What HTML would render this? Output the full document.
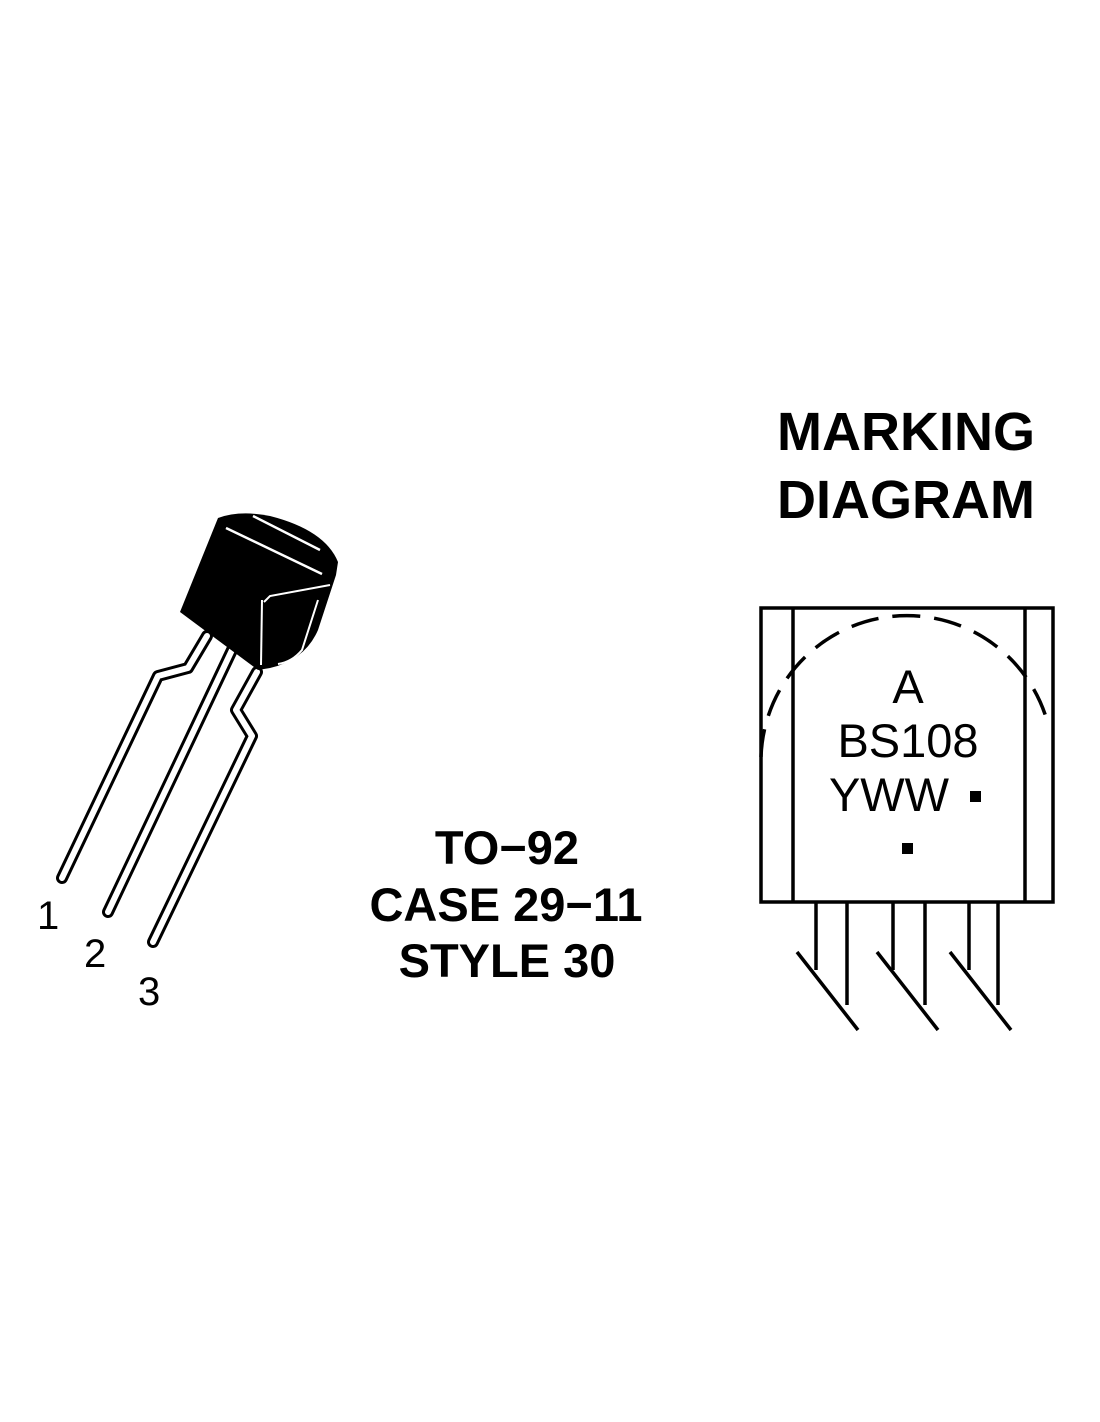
<!DOCTYPE html>
<html><head><style>
html,body{margin:0;padding:0;background:#fff;}
svg{display:block}
</style></head><body>
<svg width="1100" height="1422" viewBox="0 0 1100 1422" xmlns="http://www.w3.org/2000/svg">
<rect width="1100" height="1422" fill="#fff"/>
<!-- leads -->
<g fill="none" stroke-linecap="round" stroke-linejoin="round">
<g stroke="#000" stroke-width="12">
<path d="M207,636 L188,668 L158,676 L62,878"/>
<path d="M232,650 L108,912"/>
<path d="M257,672 L236,710 L252,736 L153,942"/>
</g>
<g stroke="#fff" stroke-width="6">
<path d="M207,636 L188,668 L158,676 L62,878"/>
<path d="M232,650 L108,912"/>
<path d="M257,672 L236,710 L252,736 L153,942"/>
</g>
</g>
<!-- body -->
<path d="M218,518 Q240,510 270,516 Q325,530 338,562 L336,575 L318,630 Q305,660 270,668 L258,670 L180,612 Z" fill="#000"/>
<path d="M226,528 L322,574" stroke="#fff" stroke-width="2.5"/>
<path d="M253,516 L320,550" stroke="#fff" stroke-width="2.5"/>
<path d="M264,602 L270,596 L330,585" stroke="#fff" stroke-width="2" fill="none"/>
<path d="M262,600 L261,665" stroke="#fff" stroke-width="2"/>
<path d="M318,600 L302,650 Q292,662 278,664" stroke="#fff" stroke-width="2" fill="none"/>
<g font-family="Liberation Sans, sans-serif" font-size="40" fill="#000">
<text x="37" y="929">1</text>
<text x="84" y="967">2</text>
<text x="138" y="1005">3</text>
</g>
<!-- center text -->
<g font-family="Liberation Sans, sans-serif" font-weight="bold" font-size="47" text-anchor="middle" fill="#000">
<text x="507" y="864">TO−92</text>
<text x="506" y="921">CASE 29−11</text>
<text x="507" y="977">STYLE 30</text>
</g>
<g font-family="Liberation Sans, sans-serif" font-weight="bold" font-size="54" text-anchor="middle" fill="#000">
<text x="906" y="450">MARKING</text>
<text x="906" y="518">DIAGRAM</text>
</g>
<!-- marking diagram -->
<g stroke="#000" stroke-width="3.5" fill="none">
<rect x="761" y="608" width="292" height="294"/>
<line x1="793" y1="608" x2="793" y2="902"/>
<line x1="1025" y1="608" x2="1025" y2="902"/>
<path d="M761,757 A146,146 0 0 1 1049,728" stroke-dasharray="28,14"/>
<line x1="816" y1="902" x2="816" y2="970"/>
<line x1="847" y1="902" x2="847" y2="1005"/>
<line x1="893" y1="902" x2="893" y2="970"/>
<line x1="925" y1="902" x2="925" y2="1005"/>
<line x1="969" y1="902" x2="969" y2="970"/>
<line x1="998" y1="902" x2="998" y2="1005"/>
<line x1="797" y1="952" x2="858" y2="1030"/>
<line x1="877" y1="952" x2="938" y2="1030"/>
<line x1="950" y1="952" x2="1011" y2="1030"/>
</g>
<g font-family="Liberation Sans, sans-serif" font-size="47" text-anchor="middle" fill="#000">
<text x="908" y="703">A</text>
<text x="908" y="757">BS108</text>
<text x="889" y="811">YWW</text>
</g>
<rect x="970" y="791" width="11" height="11" fill="#000"/>
<rect x="902" y="843" width="11" height="11" fill="#000"/>
</svg>
</body></html>
